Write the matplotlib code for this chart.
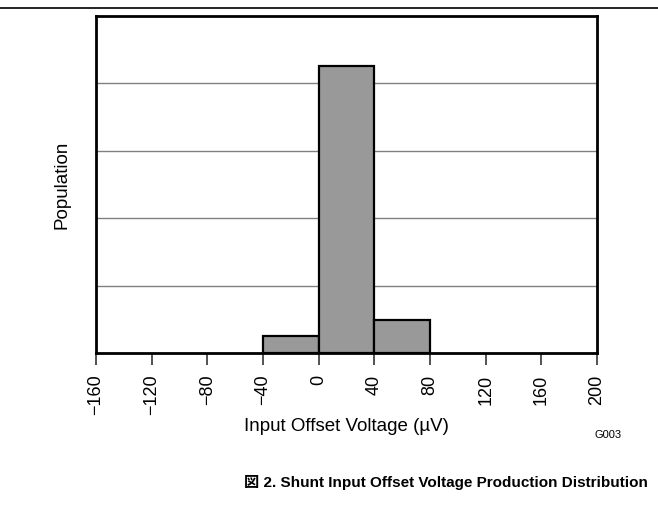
import matplotlib
matplotlib.use('Agg')
import matplotlib.pyplot as plt
from matplotlib.lines import Line2D

# histogram bins (µV) and relative population heights
bin_left = [-40, 0, 40]
bin_width = 40
population = [0.25, 4.26, 0.49]
x_ticks = [-160, -120, -80, -40, 0, 40, 80, 120, 160, 200]
x_labels = ['\u2212160', '\u2212120', '\u221280', '\u221240', '0', '40', '80', '120', '160', '200']
grid_levels = [1, 2, 3, 4]

plt.rcParams['font.family'] = ['Liberation Sans', 'Noto Sans CJK JP', 'DejaVu Sans']

fig = plt.figure(figsize=(6.58, 5.22), dpi=100)
ax = fig.add_axes([96 / 658, 1 - 353 / 522, (597 - 96) / 658, (353 - 16) / 522])

for g in grid_levels:
    ax.axhline(g, color='#808080', lw=1.0, zorder=1)

ax.bar(bin_left, population, width=bin_width, align='edge',
       color='#999999', edgecolor='black', linewidth=1.6, zorder=2)

ax.set_xlim(-160, 200)
ax.set_ylim(0, 5)
ax.set_xticks(x_ticks)
ax.set_xticklabels(x_labels, rotation=90, fontsize=13)
ax.set_yticks([])
ax.tick_params(axis='x', direction='out', length=8.5, width=1.3, color='#444444', pad=7)
for s in ax.spines.values():
    s.set_linewidth(2)
ax.set_xlabel('Input Offset Voltage (\u00b5V)', fontsize=13.5, labelpad=2)
ax.set_ylabel('Population', fontsize=13.5, labelpad=18)

fig.text(608 / 658, 1 - 435 / 522, 'G003', fontsize=8, ha='center', va='center')
fig.text(648 / 658, 1 - 482 / 522, '\u56f3 2. Shunt Input Offset Voltage Production Distribution',
         fontsize=11, fontweight='bold', ha='right', va='center')

fig.add_artist(Line2D([0, 1], [1 - 8 / 522, 1 - 8 / 522], color='black', lw=1.2,
                      transform=fig.transFigure))

fig.savefig('out.png', dpi=100)
